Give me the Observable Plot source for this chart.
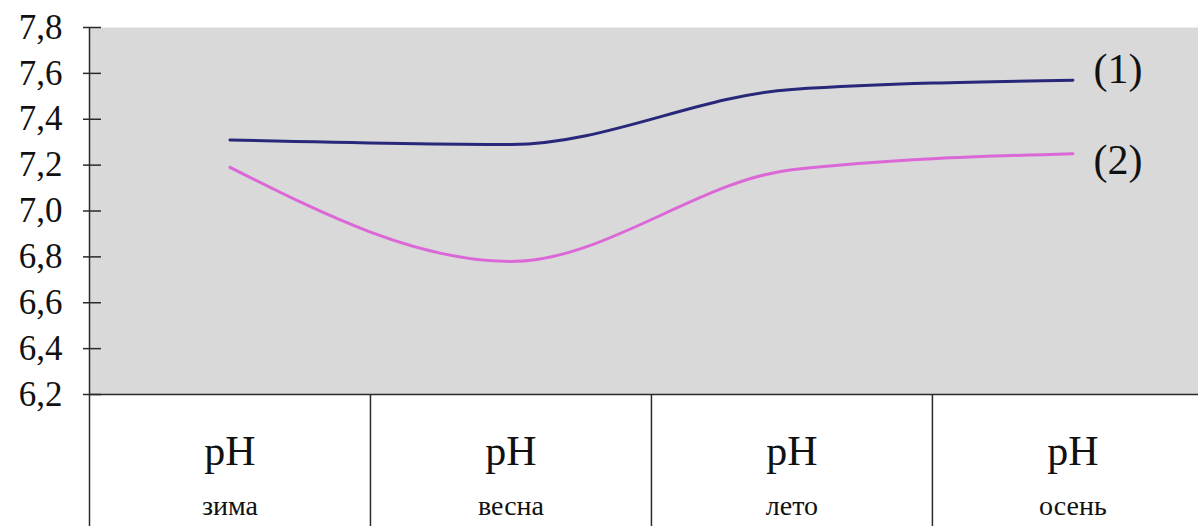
<!DOCTYPE html>
<html><head><meta charset="utf-8">
<script src="https://cdn.jsdelivr.net/npm/d3@7"></script>
<script src="https://cdn.jsdelivr.net/npm/@observablehq/plot@0.6"></script>
<style>
html,body{margin:0;padding:0;background:#fff;overflow:hidden}
svg text{font-family:"Liberation Serif","Times New Roman",serif}
</style></head><body><div id="chart"></div>
<script>
const seasons = ["зима", "весна", "лето", "осень"];
const measures = ["pH", "pH", "pH", "pH"];
const seriesNames = ["(1)", "(2)"];
const series1 = [7.31, 7.29, 7.53, 7.57];
const series2 = [7.19, 6.78, 7.18, 7.25];
const yTicks = [6.2, 6.4, 6.6, 6.8, 7.0, 7.2, 7.4, 7.6, 7.8];
const colors = ["#29277a", "#dc68d8"];

const serif = "Liberation Serif";
const centers = seasons.map((s, i) => i + 0.5);
const bounds = seasons.map((s, i) => i);
const rows = [];
[series1, series2].forEach((vals, k) => {
  vals.forEach((v, i) => rows.push({x: centers[i], y: v, series: seriesNames[k]}));
});
const lastRows = seriesNames.map(n => rows.filter(r => r.series === n).at(-1));
const fmt = d => d3.format(".1f")(d).replace(".", ",");
const ink = "#2a2a2a";

const chart = Plot.plot({
  width: 1198,
  height: 526,
  marginLeft: 89,
  marginRight: 0,
  marginTop: 27,
  marginBottom: 132,
  style: {fontFamily: serif, color: ink, background: "transparent"},
  x: {domain: [0, 3.947], axis: null, label: null},
  y: {domain: [6.2, 7.8], axis: null, label: null},
  color: {domain: seriesNames, range: colors},
  marks: [
    Plot.frame({fill: "#d9d9d9", stroke: null}),
    Plot.ruleY([6.2], {stroke: ink, strokeWidth: 1.5}),
    Plot.ruleX([0], {stroke: ink, strokeWidth: 1.5}),
    Plot.axisX(bounds, {tickSize: 132, fill: "none", label: null, stroke: ink, strokeWidth: 1.5}),
    Plot.axisX(centers, {tickSize: 0, tickPadding: 41, fontSize: 42, fontFamily: serif, label: null, tickFormat: d => measures[Math.floor(d)], fill: "#111"}),
    Plot.axisX(centers, {tickSize: 0, tickPadding: 101, fontSize: 28, fontFamily: serif, label: null, tickFormat: d => seasons[Math.floor(d)], fill: "#111"}),
    Plot.axisY(yTicks, {tickSize: 18, dx: 12, fill: "none", label: null, stroke: ink, strokeWidth: 1.5}),
    Plot.axisY(yTicks, {tickSize: 0, tickPadding: 27, fontSize: 35, fontFamily: serif, label: null, tickFormat: fmt, fill: "#111"}),
    Plot.line(rows, {x: "x", y: "y", z: "series", stroke: "series", strokeWidth: 3, curve: "monotone-x"}),
    Plot.text(lastRows.filter(r => r.series === seriesNames[0]), {x: "x", y: "y", text: "series", dx: 45, dy: -11, fontSize: 42, fontFamily: serif, fill: "#111"}),
    Plot.text(lastRows.filter(r => r.series === seriesNames[1]), {x: "x", y: "y", text: "series", dx: 45, dy: 7, fontSize: 42, fontFamily: serif, fill: "#111"})
  ]
});
document.getElementById("chart").appendChild(chart);
</script>
</body></html>
